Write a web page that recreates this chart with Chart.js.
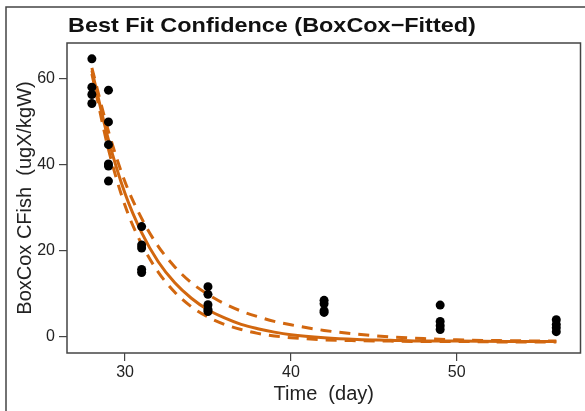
<!DOCTYPE html>
<html>
<head>
<meta charset="utf-8">
<script src="https://cdn.jsdelivr.net/npm/chart.js@4"></script>
<style>
  body { margin: 0; background: #fff; }
  #wrap { width: 585px; height: 411px; }
</style>
</head>
<body>
<div id="wrap"><canvas id="fitChart" width="585" height="411"></canvas></div>
<script>
// observed samples (day, value)
const obsDays = [28, 28, 28, 28,
	29, 29, 29, 29, 29, 29,
	31, 31, 31, 31, 31,
	35, 35, 35, 35, 35,
	42, 42, 42, 42,
	49, 49, 49, 49,
	56, 56, 56, 56];
const obsValues = [64.7, 58.1, 56.4, 54.3,
	57.4, 50.0, 44.7, 40.2, 39.7, 36.2,
	25.6, 21.3, 20.6, 15.6, 14.9,
	11.6, 9.8, 7.4, 6.3, 5.8,
	8.4, 7.6, 6.0, 5.6,
	7.3, 3.5, 2.5, 1.6,
	3.9, 2.8, 2.0, 1.1];

// best fit curve and confidence band
const fitDays = [28, 29, 30, 31, 32, 33, 34, 35, 36, 37, 38, 39, 40, 42, 44, 46, 48, 50, 53, 56];
const fitMid = [62.0, 45.8, 33.3, 24.2, 17.4, 12.5, 8.9, 6.2, 4.3, 2.8, 1.8, 1.0, 0.4, -0.3, -0.7, -0.9, -1.1, -1.1, -1.2, -1.2];
const fitUpper = [62.6, 47.8, 36.0, 27.5, 21.0, 16.2, 12.5, 9.8, 7.6, 5.9, 4.6, 3.5, 2.7, 1.4, 0.5, -0.1, -0.5, -0.8, -1.0, -1.1];
const fitLower = [61.2, 43.6, 30.5, 21.5, 15.0, 10.3, 6.9, 4.5, 2.8, 1.6, 0.7, 0.1, -0.3, -0.8, -1.0, -1.1, -1.2, -1.2, -1.3, -1.3];

const xTicks = [30, 40, 50];
const yTicks = [0, 20, 40, 60];

const orange = '#D2670F';
const tickFont = { family: 'Liberation Sans', size: 16 };

function pairs(xs, ys) {
	return xs.map((x, i) => ({ x: x, y: ys[i] }));
}

// frame, box and the R-style titles
const decorations = {
	id: 'decorations',
	afterDraw(chart) {
		const ctx = chart.ctx;
		const a = chart.chartArea;
		ctx.save();
		ctx.strokeStyle = '#444';
		ctx.lineWidth = 1.5;
		ctx.strokeRect(a.left, a.top, a.right - a.left, a.bottom - a.top);
		// outer figure frame
		ctx.beginPath();
		ctx.moveTo(6, 411);
		ctx.lineTo(6, 7);
		ctx.lineTo(585, 7);
		ctx.stroke();

		// title is a bit wider than the font, stretch it
		ctx.save();
		ctx.fillStyle = '#111';
		ctx.font = 'bold 21px "Liberation Sans"';
		ctx.textAlign = 'left';
		ctx.textBaseline = 'alphabetic';
		ctx.translate(68, 32);
		ctx.scale(1.115, 1);
		ctx.fillText('Best Fit Confidence (BoxCox\u2212Fitted)', 0, 0);
		ctx.restore();

		ctx.font = '20px "Liberation Sans"';
		ctx.fillStyle = '#222';
		ctx.textAlign = 'center';
		ctx.fillText('Time  (day)', (a.left + a.right) / 2, 400);

		ctx.translate(31, (a.top + a.bottom) / 2);
		ctx.rotate(-Math.PI / 2);
		ctx.fillText('BoxCox CFish  (ugX/kgW)', 0, 0);
		ctx.restore();
	}
};

const ctx = document.getElementById('fitChart').getContext('2d');
new Chart(ctx, {
	type: 'line',
	data: {
		datasets: [
			{
				label: 'Observed',
				data: pairs(obsDays, obsValues),
				showLine: false,
				pointRadius: 4.5,
				pointBackgroundColor: '#000',
				pointBorderWidth: 0
			},
			{
				label: 'Fit',
				data: pairs(fitDays, fitMid),
				borderColor: orange,
				borderWidth: 3,
				pointRadius: 0,
				cubicInterpolationMode: 'monotone'
			},
			{
				label: 'Upper',
				data: pairs(fitDays, fitUpper),
				borderColor: orange,
				borderWidth: 3,
				borderDash: [11, 8],
				pointRadius: 0,
				cubicInterpolationMode: 'monotone'
			},
			{
				label: 'Lower',
				data: pairs(fitDays, fitLower),
				borderColor: orange,
				borderWidth: 3,
				borderDash: [11, 8],
				pointRadius: 0,
				cubicInterpolationMode: 'monotone'
			}
		]
	},
	options: {
		responsive: false,
		animation: false,
		layout: { padding: { top: 43, left: 0, right: 2, bottom: 0 } },
		plugins: {
			legend: { display: false },
			tooltip: { enabled: false }
		},
		scales: {
			x: {
				type: 'linear',
				min: 26.5,
				max: 57.46,
				afterFit: (s) => { s.height = 58; },
				afterBuildTicks: (s) => { s.ticks = xTicks.map(v => ({ value: v })); },
				grid: { drawOnChartArea: false, tickLength: 8, color: '#444', lineWidth: 1.2 },
				border: { display: false },
				ticks: { color: '#222', font: tickFont, padding: 2, maxRotation: 0 }
			},
			y: {
				type: 'linear',
				min: -3.87,
				max: 68.4,
				afterFit: (s) => { s.width = 67; },
				afterBuildTicks: (s) => { s.ticks = yTicks.map(v => ({ value: v })); },
				grid: { drawOnChartArea: false, tickLength: 8, color: '#444', lineWidth: 1.2 },
				border: { display: false },
				ticks: { color: '#222', font: tickFont, padding: 4 }
			}
		}
	},
	plugins: [decorations]
});
</script>
</body>
</html>
